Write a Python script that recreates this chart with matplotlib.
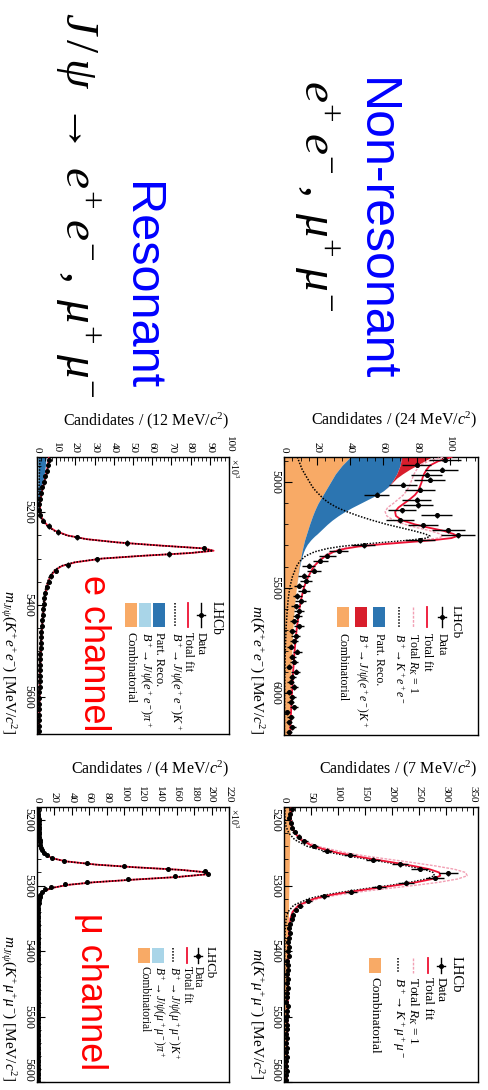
import numpy as np
import matplotlib
matplotlib.use("Agg")
import matplotlib.pyplot as plt
from matplotlib.ticker import MultipleLocator
from matplotlib.lines import Line2D
from matplotlib.patches import Rectangle

plt.rcParams['font.family'] = ['Liberation Serif', 'DejaVu Serif']
plt.rcParams['mathtext.fontset'] = 'custom'
plt.rcParams['mathtext.rm'] = 'Liberation Serif'
plt.rcParams['mathtext.it'] = 'Liberation Serif:italic'
plt.rcParams['mathtext.bf'] = 'Liberation Serif:bold'

# colours of the fit components
C_COMB = '#f8aa66'
C_PART = '#2c75b1'
C_JPSI = '#d81e2c'
C_JPSIPI = '#a9d5e8'
C_TOTAL = '#ee1133'
C_RK1 = '#f2a0b4'

# ---------------- B+ -> K+ e+ e-  (non-resonant), 24 MeV bins
ee_range = (4880, 6200)
ee_bin = 24
ee_counts = [97, 80, 95, 86, 88, 72, 82, 56, 80, 81,
             71, 92, 70, 84, 99, 105, 82, 48, 33, 26,
             22, 15, 18, 12, 13, 9, 12, 8, 10, 7,
             9, 8, 6, 9, 5, 7, 6, 4, 8, 5,
             6, 3, 7, 5, 4, 6, 3, 5, 4, 6,
             2, 4, 3, 5, 3]
ee_fit_mass = [4880, 4900, 4920, 4940, 4960, 4980, 5000, 5020, 5040, 5060,
               5080, 5100, 5120, 5140, 5160, 5180, 5200, 5215, 5230, 5245,
               5255, 5265, 5275, 5285, 5295, 5305, 5315, 5330, 5350, 5375,
               5400, 5450, 5500, 5550, 5600, 5700, 5800, 5900, 6000, 6100, 6200]
ee_total = [101, 93, 88, 86, 84.5, 83.5, 83, 82, 81, 79,
            76, 72.5, 69, 67, 67.5, 71, 79, 87, 96, 102,
            104.5, 101, 90, 74, 58, 45, 37, 30, 25, 21,
            18, 14.5, 12, 10.5, 9.3, 7.6, 6.4, 5.5, 4.8, 4.2, 3.7]
ee_total_rk1 = [96, 87, 82, 80, 78.5, 77.5, 76.5, 75.5, 74, 72,
                69, 66, 62.5, 61, 62, 66, 73, 80, 88, 94,
                96, 93, 83, 68, 54, 42, 35, 28.5, 24, 20.5,
                17.8, 14.4, 12, 10.5, 9.3, 7.6, 6.4, 5.5, 4.8, 4.2, 3.7]
ee_signal = [8, 9, 10, 11, 12.5, 14, 15.5, 17, 19, 21.5,
             24, 27.5, 32, 38, 45, 53, 62, 70, 78, 85,
             88, 86, 76, 61, 46, 34, 26, 18.5, 13, 9.5,
             7.5, 5, 3.5, 2.6, 2, 1.2, 0.8, 0.5, 0.35, 0.25, 0.2]
ee_comb = [40, 37.5, 35, 33, 31, 29.5, 28, 26.5, 25, 23.5,
           22, 20.5, 19.3, 18.2, 17.2, 16.3, 15.4, 14.8, 14.2, 13.6,
           13.2, 12.8, 12.4, 12.1, 11.8, 11.5, 11.2, 10.8, 10.3, 9.7,
           9.2, 8.3, 7.5, 6.8, 6.2, 5.3, 4.7, 4.2, 3.8, 3.5, 3.2]
ee_partreco = [31, 33, 35, 36, 37, 37, 37, 36.5, 35, 32.5,
               29, 25.5, 21.7, 18.3, 15.3, 12.7, 10.6, 9.2, 7.8, 6.4,
               5.3, 4.4, 3.6, 2.9, 2.2, 1.8, 1.4, 1.0, 0.7, 0.4,
               0.2, 0.1, 0, 0, 0, 0, 0, 0, 0, 0, 0]
ee_jpsi = [18, 14, 10, 6.5, 3.5, 1.5, 0.5, 0.1, 0, 0,
           0, 0, 0, 0, 0, 0, 0, 0, 0, 0,
           0, 0, 0, 0, 0, 0, 0, 0, 0, 0,
           0, 0, 0, 0, 0, 0, 0, 0, 0, 0, 0]

# ---------------- B+ -> K+ mu+ mu-  (non-resonant), 7 MeV bins
mm_range = (5180, 5600)
mm_bin = 7
mm_counts = [14, 12, 10, 13, 15, 20, 27, 38, 55, 80,
             122, 165, 215, 252, 305, 280, 226, 176, 124, 75,
             45, 30, 22, 17, 14, 12, 10, 11, 9, 8,
             10, 7, 9, 6, 8, 7, 5, 8, 6, 7,
             5, 6, 4, 7, 5, 6, 4, 5, 6, 3,
             5, 4, 6, 3, 5, 4, 3, 5, 4, 3]
mm_fit_mass = [5180, 5190, 5200, 5210, 5220, 5230, 5240, 5250, 5255, 5260,
               5265, 5270, 5275, 5280, 5285, 5290, 5295, 5300, 5305, 5310,
               5315, 5320, 5330, 5340, 5350, 5370, 5400, 5450, 5500, 5550, 5600]
mm_total = [14, 12.5, 12.5, 14.5, 20, 31, 54, 100, 132, 168,
            205, 240, 270, 288, 290, 275, 245, 205, 160, 118,
            82, 56, 27, 16, 12, 9.5, 8.5, 7.5, 6.5, 5.8, 5.2]
mm_total_rk1 = [15, 13.5, 13.5, 16, 22.5, 35, 62, 116, 153, 196,
                240, 281, 316, 337, 340, 322, 287, 240, 187, 137,
                95, 64, 30, 17, 12.5, 9.7, 8.6, 7.5, 6.5, 5.8, 5.2]
mm_signal = [2, 1.5, 2, 4, 9, 20, 43, 89, 121, 157,
             194, 229, 259, 277, 279, 264, 234, 194, 149, 108,
             72, 46, 18, 7.5, 4, 2, 1.2, 0.8, 0.5, 0.3, 0.2]
mm_comb = [12, 11.7, 11.4, 11.1, 10.8, 10.6, 10.3, 10.1, 10, 9.9,
           9.8, 9.7, 9.6, 9.5, 9.4, 9.3, 9.2, 9.1, 9.0, 8.9,
           8.8, 8.7, 8.6, 8.4, 8.2, 7.8, 7.3, 6.6, 6.0, 5.4, 4.9]

# ---------------- B+ -> J/psi(e+e-) K+, 12 MeV bins, x10^3
jee_range = (5080, 5680)
jee_bin = 12
jee_counts = [6.0, 5.6, 5.0, 4.4, 3.6, 2.8, 2.1, 1.6, 1.3, 1.3,
              1.8, 3.2, 6.2, 11, 21, 47, 87, 69, 31, 16,
              10, 7.5, 6, 5, 4.4, 3.9, 3.5, 3.2, 2.9, 2.7,
              2.5, 2.3, 2.2, 2.0, 1.9, 1.8, 1.7, 1.6, 1.5, 1.45,
              1.4, 1.35, 1.3, 1.25, 1.2, 1.15, 1.1, 1.05, 1.0, 1.0]
jee_fit_mass = [5080, 5100, 5120, 5140, 5160, 5180, 5200, 5215, 5230, 5240,
                5250, 5258, 5265, 5272, 5278, 5283, 5288, 5294, 5300, 5308,
                5316, 5325, 5340, 5360, 5380, 5400, 5450, 5500, 5550, 5600, 5680]
jee_total = [6.2, 5.6, 4.6, 3.4, 2.3, 1.6, 1.6, 2.8, 5.8, 9.5,
             16, 26, 42, 65, 87, 92, 80, 55, 34, 20,
             13, 9.5, 6.8, 5.1, 4.2, 3.6, 2.6, 2.0, 1.6, 1.35, 1.05]
jee_signal = [1.5, 1.4, 1.2, 1.1, 1.0, 1.0, 1.2, 2.4, 5.4, 9.1,
              15.6, 25.6, 41.6, 64.6, 86.6, 91.6, 79.6, 54.6, 33.6, 19.6,
              12.6, 9.1, 6.4, 4.7, 3.8, 3.2, 2.2, 1.6, 1.2, 0.95, 0.65]
jee_comb = [0.35, 0.35, 0.35, 0.35, 0.35, 0.34, 0.34, 0.34, 0.34, 0.34,
            0.34, 0.34, 0.34, 0.34, 0.34, 0.34, 0.33, 0.33, 0.33, 0.33,
            0.33, 0.33, 0.33, 0.33, 0.32, 0.32, 0.32, 0.31, 0.31, 0.30, 0.30]
jee_jpsipi = [0.1, 0.2, 0.3, 0.2, 0.1, 0.05, 0, 0, 0, 0,
              0, 0, 0, 0, 0, 0, 0, 0, 0, 0,
              0, 0, 0, 0, 0, 0, 0, 0, 0, 0, 0]
jee_partreco = [4.3, 3.8, 3.0, 2.0, 1.1, 0.4, 0.1, 0, 0, 0,
                0, 0, 0, 0, 0, 0, 0, 0, 0, 0,
                0, 0, 0, 0, 0, 0, 0, 0, 0, 0, 0]

# ---------------- B+ -> J/psi(mu+mu-) K+, 4 MeV bins, x10^3
jmm_range = (5180, 5600)
jmm_bin = 4
jmm_counts = [1.6, 1.6, 1.7, 1.7, 1.8, 1.8, 1.9, 2.0, 2.1, 2.2,
              2.4, 2.6, 2.9, 3.3, 3.8, 4.6, 5.8, 7.8, 11, 17,
              31, 57, 100, 150, 192, 196, 158, 104, 57, 32,
              16, 9, 5.5, 3.8, 2.9, 2.3, 1.9, 1.6, 1.4, 1.3,
              1.2, 1.15, 1.1, 1.12, 1.08, 1.05, 1.06, 1.02, 1.0, 1.01,
              0.98, 0.97, 0.96, 0.95, 0.94, 0.95, 0.92, 0.91, 0.9, 0.9,
              0.88, 0.87, 0.88, 0.86, 0.85, 0.85, 0.84, 0.83, 0.83, 0.82,
              0.81, 0.82, 0.8, 0.8, 0.79, 0.78, 0.79, 0.77, 0.77, 0.76,
              0.76, 0.75, 0.75, 0.74, 0.74, 0.73, 0.74, 0.72, 0.72, 0.71,
              0.71, 0.7, 0.71, 0.69, 0.7, 0.69, 0.68, 0.68, 0.67, 0.68,
              0.67, 0.66, 0.66, 0.66, 0.65]
jmm_fit_mass = [5180, 5200, 5220, 5235, 5245, 5252, 5258, 5263, 5268, 5272,
                5276, 5280, 5283, 5287, 5291, 5295, 5299, 5304, 5310, 5318,
                5330, 5350, 5400, 5450, 5500, 5600]
jmm_total = [1.5, 1.8, 2.3, 3.4, 5.5, 9, 17, 33, 68, 112,
             165, 196, 193, 160, 110, 65, 35, 16, 6.5, 2.8,
             1.6, 1.15, 0.95, 0.85, 0.78, 0.66]
jmm_signal = [1.0, 1.3, 1.8, 2.9, 5.0, 8.5, 16.5, 32.5, 67.5, 111.5,
              164.5, 195.5, 192.5, 159.5, 109.5, 64.5, 34.5, 15.5, 6.0, 2.3,
              1.1, 0.7, 0.5, 0.45, 0.4, 0.3]
jmm_comb = [0.4, 0.4, 0.4, 0.4, 0.4, 0.4, 0.4, 0.4, 0.4, 0.4,
            0.4, 0.4, 0.4, 0.4, 0.4, 0.4, 0.4, 0.4, 0.4, 0.4,
            0.39, 0.38, 0.36, 0.34, 0.32, 0.3]
jmm_jpsipi = [0.1, 0.1, 0.1, 0.1, 0.1, 0.1, 0.1, 0.1, 0.1, 0.1,
              0.1, 0.1, 0.1, 0.1, 0.1, 0.1, 0.1, 0.1, 0.1, 0.08,
              0.06, 0.04, 0.02, 0, 0, 0]

# ---------------- figure layout (pixel boxes: left, top, right, bottom)
W, H = 488, 1090
fig = plt.figure(figsize=(W / 100, H / 100), dpi=100)


def fx(x):
    return x / W


def fy(y):
    return 1 - y / H


def make_axes(box, xmax, mrange, cmaj, cmin, mmaj, mmin):
    x0, y0, x1, y1 = box
    ax = fig.add_axes([fx(x0), fy(y1), (x1 - x0) / W, (y1 - y0) / H])
    ax.set_xlim(0, xmax)
    ax.set_ylim(mrange[1], mrange[0])
    ax.xaxis.set_major_locator(MultipleLocator(cmaj))
    ax.xaxis.set_minor_locator(MultipleLocator(cmin))
    ax.yaxis.set_major_locator(MultipleLocator(mmaj))
    ax.yaxis.set_minor_locator(MultipleLocator(mmin))
    ax.tick_params(axis='x', which='both', top=True, bottom=False,
                   labeltop=True, labelbottom=False, direction='in',
                   labelrotation=-90, labelsize=8, pad=3)
    ax.tick_params(axis='y', which='both', left=True, right=False,
                   direction='in', labelrotation=-90, labelsize=8.5, pad=2)
    ax.tick_params(which='major', length=6, width=0.8)
    ax.tick_params(which='minor', length=3, width=0.6)
    fig.canvas.draw()
    for lab in ax.get_yticklabels():
        lab.set_va('center')
        # a label sitting on the lower frame edge is kept inside the figure
        if lab.get_position()[1] >= mrange[1] - 1:
            lab.set_va('bottom')
    for s in ax.spines.values():
        s.set_linewidth(1.0)
    return ax


def draw_data(ax, counts, mrange, width, scale=1.0):
    counts = np.asarray(counts, float)
    centers = mrange[0] + width * (np.arange(len(counts)) + 0.5)
    err = np.sqrt(counts * scale) / scale
    ax.errorbar(counts, centers, xerr=err, yerr=width / 2, fmt='o', ms=2.6,
                color='black', elinewidth=1.0, capsize=0, zorder=6)


def draw_stack(ax, mass, comps):
    base = np.zeros(len(mass))
    for vals, col in comps:
        top = base + np.asarray(vals, float)
        ax.fill_betweenx(mass, base, top, color=col, lw=0, zorder=1)
        base = top


def legend(entries, xs, h0, h1, ttop, fs):
    for (kind, label, style), x in zip(entries, xs):
        if kind == 'lhcb':
            fig.text(fx(x), fy(h0 - 2), label, rotation=-90, ha='center',
                     va='top', fontsize=fs + 1)
            continue
        if kind == 'line':
            fig.add_artist(Line2D([fx(x), fx(x)], [fy(h0), fy(h1)], **style))
        elif kind == 'box':
            fig.add_artist(Rectangle((fx(x - 6), fy(h1)), 12 / W, (h1 - h0) / H,
                                     color=style, lw=0))
        elif kind == 'data':
            fig.add_artist(Line2D([fx(x), fx(x)], [fy(h0), fy(h1)], color='k', lw=1))
            ym = (h0 + h1) / 2
            fig.add_artist(Line2D([fx(x - 4), fx(x + 4)], [fy(ym), fy(ym)], color='k', lw=1))
            fig.add_artist(Line2D([fx(x)], [fy(ym)], marker='o', ms=2.6, color='k'))
        fig.text(fx(x), fy(ttop), label, rotation=-90, ha='center', va='top', fontsize=fs)


ls_total = dict(color=C_TOTAL, lw=1.3)
ls_rk1 = dict(color=C_RK1, lw=1.0, ls=(0, (2, 1)))
ls_sig = dict(color='black', lw=1.1, ls=(0, (1, 1)))

# ---- panel: non-resonant electrons
ax = make_axes((284, 457, 478, 735), 117, ee_range, 20, 5, 500, 100)
draw_stack(ax, ee_fit_mass, [(ee_comb, C_COMB), (ee_partreco, C_PART), (ee_jpsi, C_JPSI)])
ax.plot(ee_signal, ee_fit_mass, zorder=3, **ls_sig)
ax.plot(ee_total_rk1, ee_fit_mass, zorder=3, **ls_rk1)
ax.plot(ee_total, ee_fit_mass, zorder=4, **ls_total)
draw_data(ax, ee_counts, ee_range, ee_bin)
fig.text(fx(478), fy(420), r'Candidates / (24 MeV/$c^2$)', ha='right', va='center', fontsize=11.5)
fig.text(fx(256), fy(734), r'$m(K^{+}e^{+}e^{-})$ [MeV/$c^2$]', rotation=-90,
         ha='center', va='bottom', fontsize=11)
legend([('lhcb', 'LHCb', None), ('data', 'Data', None), ('line', 'Total fit', ls_total),
        ('line', r'Total $R_K$ = 1', ls_rk1), ('line', r'$B^+\!\to K^+e^+e^-$', ls_sig),
        ('box', 'Part. Reco.', C_PART), ('box', r'$B^+\!\to J/\psi(e^+e^-)K^+$', C_JPSI),
        ('box', 'Combinatorial', C_COMB)],
       [456, 442, 427, 413, 399, 379, 361, 343], 607, 627, 633, 8.5)

# ---- panel: non-resonant muons
ax = make_axes((284, 807, 478, 1082), 360, mm_range, 50, 10, 100, 20)
draw_stack(ax, mm_fit_mass, [(mm_comb, C_COMB)])
ax.plot(mm_signal, mm_fit_mass, zorder=3, **ls_sig)
ax.plot(mm_total_rk1, mm_fit_mass, zorder=3, **ls_rk1)
ax.plot(mm_total, mm_fit_mass, zorder=4, **ls_total)
draw_data(ax, mm_counts, mm_range, mm_bin)
fig.text(fx(478), fy(769), r'Candidates / (7 MeV/$c^2$)', ha='right', va='center', fontsize=11.5)
fig.text(fx(256), fy(1079), r'$m(K^{+}\mu^{+}\mu^{-})$ [MeV/$c^2$]', rotation=-90,
         ha='center', va='bottom', fontsize=11)
legend([('lhcb', 'LHCb', None), ('data', 'Data', None), ('line', 'Total fit', ls_total),
        ('line', r'Total $R_K$ = 1', ls_rk1), ('line', r'$B^+\!\to K^+\mu^+\mu^-$', ls_sig),
        ('box', 'Combinatorial', C_COMB)],
       [456, 441, 428, 413, 398, 375], 958, 973, 977, 9.5)

# ---- panel: J/psi electrons
ax = make_axes((37, 457, 229, 734), 100, jee_range, 10, 2, 200, 50)
draw_stack(ax, jee_fit_mass, [(jee_comb, C_COMB), (jee_jpsipi, C_JPSIPI), (jee_partreco, C_PART)])
ax.plot(jee_total, jee_fit_mass, zorder=3, **ls_total)
ax.plot(jee_signal, jee_fit_mass, zorder=4, **ls_sig)
draw_data(ax, jee_counts, jee_range, jee_bin, scale=1e3)
fig.text(fx(230), fy(421), r'Candidates / (12 MeV/$c^2$)', ha='right', va='center', fontsize=11.5)
fig.text(fx(234), fy(458), r'$\times10^3$', rotation=-90, ha='center', va='top', fontsize=7)
fig.text(fx(8), fy(734), r'$m_{J/\psi}(K^{+}e^{+}e^{-})$ [MeV/$c^2$]', rotation=-90,
         ha='center', va='bottom', fontsize=11)
legend([('lhcb', 'LHCb', None), ('data', 'Data', None), ('line', 'Total fit', ls_total),
        ('line', r'$B^+\!\to J/\psi(e^+e^-)K^+$', ls_sig), ('box', 'Part. Reco.', C_PART),
        ('box', r'$B^+\!\to J/\psi(e^+e^-)\pi^+$', C_JPSIPI), ('box', 'Combinatorial', C_COMB)],
       [216, 201, 188, 175, 159, 145, 131], 603, 627, 632, 8.8)

# ---- panel: J/psi muons
ax = make_axes((37, 807, 229, 1082), 220, jmm_range, 20, 5, 100, 20)
draw_stack(ax, jmm_fit_mass, [(jmm_comb, C_COMB), (jmm_jpsipi, C_JPSIPI)])
ax.plot(jmm_total, jmm_fit_mass, zorder=3, **ls_total)
ax.plot(jmm_signal, jmm_fit_mass, zorder=4, **ls_sig)
draw_data(ax, jmm_counts, jmm_range, jmm_bin, scale=1e3)
fig.text(fx(230), fy(769), r'Candidates / (4 MeV/$c^2$)', ha='right', va='center', fontsize=11.5)
fig.text(fx(234), fy(808), r'$\times10^3$', rotation=-90, ha='center', va='top', fontsize=7)
fig.text(fx(8), fy(1081), r'$m_{J/\psi}(K^{+}\mu^{+}\mu^{-})$ [MeV/$c^2$]', rotation=-90,
         ha='center', va='bottom', fontsize=11)
legend([('lhcb', 'LHCb', None), ('data', 'Data', None), ('line', 'Total fit', ls_total),
        ('line', r'$B^+\!\to J/\psi(\mu^+\mu^-)K^+$', ls_sig),
        ('box', r'$B^+\!\to J/\psi(\mu^+\mu^-)\pi^+$', C_JPSIPI), ('box', 'Combinatorial', C_COMB)],
       [210, 198, 187, 173, 158, 144], 948, 963, 966, 8.3)

# ---- slide annotations
sans = ['Liberation Sans', 'DejaVu Sans']
fig.text(fx(375), fy(78), 'Non-resonant', rotation=-90, ha='center', va='top',
         fontsize=36, color='#0000ff', family=sans)
fig.text(fx(315), fy(80), r'$e^{+}\;e^{-}\;,\;\mu^{+}\;\mu^{-}$', rotation=-90,
         ha='center', va='top', fontsize=34)
fig.text(fx(140), fy(182), 'Resonant', rotation=-90, ha='center', va='top',
         fontsize=35, color='#0000ff', family=sans)
fig.text(fx(76), fy(12), r'$J\,/\,\psi\;\rightarrow\;e^{+}\;e^{-}\;,\;\mu^{+}\;\mu^{-}$',
         rotation=-90, ha='center', va='top', fontsize=34)
fig.text(fx(93), fy(575), 'e channel', rotation=-90, ha='center', va='top',
         fontsize=26, color='#ff0000', family=sans)
fig.text(fx(90), fy(913), 'μ channel', rotation=-90, ha='center', va='top',
         fontsize=26, color='#ff0000', family=sans)

fig.savefig('out.png', dpi=100)
